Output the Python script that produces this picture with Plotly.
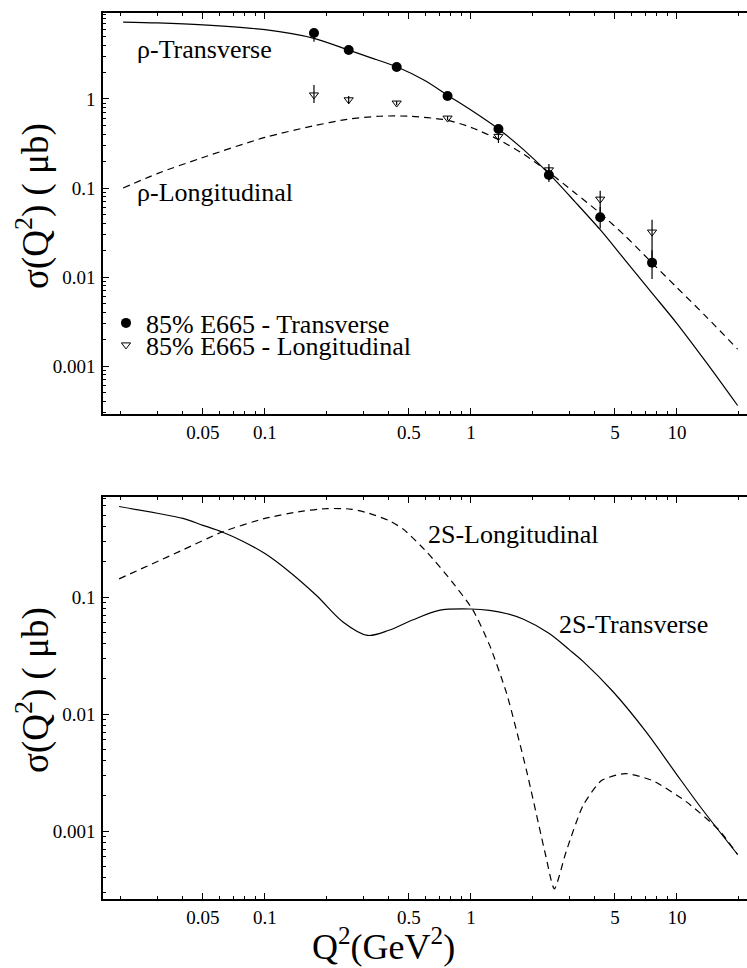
import numpy as np
import plotly.graph_objects as go
from plotly.subplots import make_subplots

# ---------------- data ----------------
# top panel: rho meson theory curves
rhoT_q = [0.0205, 0.03, 0.05, 0.1, 0.173, 0.25, 0.32, 0.436, 0.6, 0.77, 1.0, 1.36,
          1.8, 2.39, 3.2, 4.24, 5.6, 7.57, 10, 14, 19.7]
rhoT_s = [7.3, 7.15, 6.8, 6.0, 4.8, 3.6, 2.95, 2.3, 1.6, 1.1, 0.75, 0.46,
          0.27, 0.145, 0.07, 0.034, 0.0155, 0.0066, 0.0030, 0.00107, 0.00036]

rhoL_q = [0.0205, 0.03, 0.05, 0.1, 0.173, 0.25, 0.36, 0.5, 0.76, 1.0, 1.36, 1.8,
          2.39, 3.2, 4.24, 5.6, 7.57, 10, 14, 19.7]
rhoL_s = [0.100, 0.145, 0.22, 0.37, 0.50, 0.59, 0.64, 0.64, 0.58, 0.48, 0.35, 0.24,
          0.15, 0.088, 0.052, 0.029, 0.0144, 0.0076, 0.0035, 0.00155]

# E665 data points
e665_q = [0.173, 0.255, 0.436, 0.77, 1.36, 2.39, 4.24, 7.57]
e665_T = [5.5, 3.55, 2.29, 1.08, 0.46, 0.14, 0.047, 0.0145]
e665_T_hi = [6.1, 3.7, 2.4, 1.13, 0.49, 0.17, 0.061, 0.020]
e665_T_lo = [4.4, 3.4, 2.2, 1.03, 0.43, 0.117, 0.035, 0.0095]
e665_L = [1.11, 0.98, 0.90, 0.61, 0.38, 0.16, 0.075, 0.032]
e665_L_hi = [1.44, 1.08, 0.95, 0.64, 0.41, 0.186, 0.093, 0.044]
e665_L_lo = [0.90, 0.88, 0.85, 0.58, 0.32, 0.123, 0.047, 0.0144]

# bottom panel: 2S curves
s2T_q = [0.0196, 0.03, 0.04, 0.05, 0.062, 0.078, 0.1, 0.13, 0.178, 0.24, 0.315, 0.4,
         0.52, 0.7, 1.0, 1.23, 1.5, 1.8, 2.39, 3.0, 3.5, 4.9, 7.1, 9.9, 13.2, 19.7]
s2T_s = [0.594, 0.52, 0.47, 0.41, 0.36, 0.30, 0.235, 0.167, 0.103, 0.061, 0.047, 0.052,
         0.0636, 0.077, 0.079, 0.077, 0.072, 0.0645, 0.049, 0.0355, 0.0282, 0.0155, 0.0070,
         0.0031, 0.00155, 0.00063]

s2L_q = [0.0196, 0.04, 0.062, 0.1, 0.15, 0.2, 0.26, 0.32, 0.4, 0.47, 0.61, 0.81, 1.02,
         1.23, 1.49, 1.86, 2.3, 2.54, 2.9, 3.5, 4.3, 5.6, 7.6, 11, 16, 19.7]
s2L_s = [0.143, 0.253, 0.36, 0.47, 0.54, 0.57, 0.565, 0.52, 0.45, 0.38, 0.243, 0.135, 0.078,
         0.039, 0.015, 0.0033, 0.00063, 0.00032, 0.00067, 0.00165, 0.0027, 0.0031, 0.0027,
         0.0018, 0.00102, 0.00063]

x_major = [0.05, 0.1, 0.5, 1, 5, 10]
x_labels = ["0.05", "0.1", "0.5", "1", "5", "10"]
y_top_major = [0.001, 0.01, 0.1, 1]
y_top_labels = ["0.001", "0.01", "0.1", "1"]
y_bot_major = [0.001, 0.01, 0.1]
y_bot_labels = ["0.001", "0.01", "0.1"]

# ---------------- figure ----------------
FONT = "Liberation Serif, DejaVu Serif, Times New Roman, serif"
W, H = 747, 968
ML, MR, MT, MB = 103, 0, 13, 69
PH = H - MT - MB  # plot height in px

def py(pix):   # pixel row -> paper y
    return (H - MB - pix) / PH

def px(pix):   # pixel column -> paper x
    return (pix - ML) / (W - ML - MR)

fig = make_subplots(rows=2, cols=1, vertical_spacing=0.0)
fig.update_layout(
    yaxis=dict(domain=[py(414), 1.0]),
    yaxis2=dict(domain=[0.0, py(497)]),
)

line = dict(color="black", width=1.2)
dash = dict(color="black", width=1.2, dash="7px,5px")

fig.add_trace(go.Scatter(x=rhoT_q, y=rhoT_s, mode="lines", line=dict(**line, shape="spline", smoothing=0.8),
                         showlegend=False, hoverinfo="skip"), row=1, col=1)
fig.add_trace(go.Scatter(x=rhoL_q, y=rhoL_s, mode="lines", line=dict(**dash, shape="spline", smoothing=0.8),
                         showlegend=False, hoverinfo="skip"), row=1, col=1)

fig.add_trace(go.Scatter(
    x=e665_q, y=e665_T, mode="markers", name="85% E665 - Transverse",
    marker=dict(symbol="circle", size=10, color="black"),
    error_y=dict(type="data", symmetric=False,
                 array=[h - v for h, v in zip(e665_T_hi, e665_T)],
                 arrayminus=[v - l for v, l in zip(e665_T, e665_T_lo)],
                 width=0, thickness=1.2, color="black"),
    legend="legend"), row=1, col=1)
fig.add_trace(go.Scatter(
    x=e665_q, y=e665_L, mode="markers", name="85% E665 - Longitudinal",
    marker=dict(symbol="triangle-down-open", size=8, color="black", line=dict(width=1, color="black")),
    error_y=dict(type="data", symmetric=False,
                 array=[h - v for h, v in zip(e665_L_hi, e665_L)],
                 arrayminus=[v - l for v, l in zip(e665_L, e665_L_lo)],
                 width=0, thickness=1.2, color="black"),
    legend="legend2"), row=1, col=1)

fig.add_trace(go.Scatter(x=s2T_q, y=s2T_s, mode="lines", line=dict(**line, shape="spline", smoothing=0.9),
                         showlegend=False, hoverinfo="skip"), row=2, col=1)
fig.add_trace(go.Scatter(x=s2L_q, y=s2L_s, mode="lines", line=dict(**dash, shape="spline", smoothing=0.6),
                         showlegend=False, hoverinfo="skip"), row=2, col=1)

def minors(lo_exp, hi_exp, vmin, vmax):
    out = []
    for e in range(lo_exp, hi_exp + 1):
        for m in range(2, 10):
            v = m * 10.0 ** e
            if vmin <= v <= vmax:
                out.append(v)
    return out

xr = [-1.786, 1.340]
x_minor = [v for v in minors(-2, 1, 10 ** xr[0], 10 ** xr[1]) if round(v, 6) not in x_major]

TICKFONT = dict(family=FONT, size=19, color="black")
xcommon = dict(type="log", range=xr, showline=True, linecolor="black", linewidth=1.6,
               mirror="ticks", ticks="inside", ticklen=6, tickwidth=1, tickcolor="black",
               tickvals=x_major, ticktext=x_labels, showgrid=False, zeroline=False,
               tickfont=TICKFONT,
               minor=dict(tickvals=x_minor, ticks="inside", ticklen=3.5, tickwidth=1,
                          tickcolor="black", showgrid=False))
fig.update_xaxes(**xcommon)

yt_range = [-3.539, 0.966]
yb_range = [-3.581, -0.145]
ycommon = dict(type="log", showline=True, linecolor="black", linewidth=1.6, mirror=False,
               ticks="inside", ticklen=6, tickwidth=1, tickcolor="black", showgrid=False,
               zeroline=False, tickfont=TICKFONT, ticklabelstandoff=2)
fig.update_yaxes(**ycommon)
fig.update_yaxes(range=yt_range, tickvals=y_top_major, ticktext=y_top_labels,
                 minor=dict(tickvals=minors(-4, 0, 10 ** yt_range[0], 10 ** yt_range[1]),
                            ticks="inside", ticklen=3.5, tickwidth=1, tickcolor="black", showgrid=False),
                 row=1, col=1)
fig.update_yaxes(range=yb_range, tickvals=y_bot_major, ticktext=y_bot_labels,
                 minor=dict(tickvals=minors(-4, -1, 10 ** yb_range[0], 10 ** yb_range[1]),
                            ticks="inside", ticklen=3.5, tickwidth=1, tickcolor="black", showgrid=False),
                 row=2, col=1)

legfont = dict(family=FONT, size=26, color="black")
fig.update_layout(
    width=W, height=H, margin=dict(l=ML, r=MR, t=MT, b=MB),
    paper_bgcolor="white", plot_bgcolor="white",
    font=dict(family=FONT, color="black"),
    legend=dict(x=px(106), y=py(323), xanchor="left", yanchor="middle", font=legfont,
                bgcolor="rgba(0,0,0,0)", borderwidth=0),
    legend2=dict(x=px(106), y=py(345), xanchor="left", yanchor="middle", font=legfont,
                 bgcolor="rgba(0,0,0,0)", borderwidth=0),
)

labfont = dict(family=FONT, size=26, color="black")
# curve labels (data coordinates, log axes use log10 values)
fig.add_annotation(x=-1.631, y=0.551, xref="x", yref="y", text="ρ-Transverse", showarrow=False,
                   xanchor="left", yanchor="middle", font=labfont)
fig.add_annotation(x=-1.631, y=-1.056, xref="x", yref="y", text="ρ-Longitudinal", showarrow=False,
                   xanchor="left", yanchor="middle", font=labfont)
fig.add_annotation(x=-0.218, y=-0.462, xref="x2", yref="y2", text="2S-Longitudinal", showarrow=False,
                   xanchor="left", yanchor="middle", font=labfont)
fig.add_annotation(x=0.418, y=-1.239, xref="x2", yref="y2", text="2S-Transverse", showarrow=False,
                   xanchor="left", yanchor="middle", font=labfont)

titfont = dict(family=FONT, size=37, color="black")
for cy in (206, 690):
    fig.add_annotation(x=px(33), y=py(cy), xref="paper", yref="paper",
                       text="σ(Q<sup>2</sup>) ( μb)", textangle=-90, showarrow=False,
                       xanchor="center", yanchor="middle", font=titfont)
fig.add_annotation(x=px(383), y=py(945), xref="paper", yref="paper",
                   text="Q<sup>2</sup>(GeV<sup>2</sup>)", showarrow=False,
                   xanchor="center", yanchor="middle", font=dict(family=FONT, size=36, color="black"))

fig.write_html("out.html")
